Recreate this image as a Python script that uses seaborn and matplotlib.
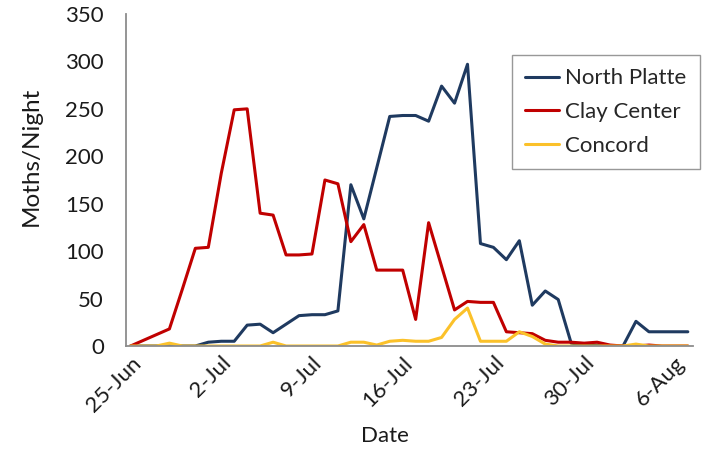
import matplotlib
matplotlib.use("Agg")
import matplotlib.pyplot as plt
import seaborn as sns
import pandas as pd
import numpy as np

# ---- data (daily trap catches, moths per night) ----
start_date = "2019-06-25"
n_days = 44
north_platte = [0, 0, 0, 0, 0, 0, 4, 5, 5, 22, 23, 14, 23, 32, 33, 33, 37, 170,
                134, 188, 242, 243, 243, 237, 274, 256, 297, 108, 104, 91, 111,
                43, 58, 49, 3, 1, 1, 0, 0, 26, 15, 15, 15, 15]
clay_center = [0, 6, 12, 18, 60, 103, 104, 182, 249, 250, 140, 138, 96, 96, 97,
               175, 171, 110, 128, 80, 80, 80, 28, 130, 84, 38, 47, 46, 46, 15,
               14, 13, 6, 4, 4, 3, 4, 1, 0, 0, 1, 0, 0, 0]
concord = [0, 0, 0, 3, 0, 0, 0, 0, 0, 0, 0, 4, 0, 0, 0, 0, 0, 4, 4, 1, 5, 6, 5,
           5, 9, 28, 40, 5, 5, 5, 15, 10, 2, 0, 0, 0, 0, 0, 0, 2, 0, 0, 0, 0]
series_names = ["North Platte", "Clay Center", "Concord"]
series_colors = ["#1F3A60", "#C00000", "#FBC12A"]
tick_dates = ["2019-06-25", "2019-07-02", "2019-07-09", "2019-07-16",
              "2019-07-23", "2019-07-30", "2019-08-06"]
tick_labels = ["25-Jun", "2-Jul", "9-Jul", "16-Jul", "23-Jul", "30-Jul", "6-Aug"]
y_ticks = [0, 50, 100, 150, 200, 250, 300, 350]

dates = pd.date_range(start_date, periods=n_days, freq="D")
df = pd.DataFrame({
    "Date": np.tile(dates, 3),
    "Moths": north_platte + clay_center + concord,
    "Site": np.repeat(series_names, n_days),
})

sns.set_style("white")
plt.rcParams["font.family"] = ["Lato", "DejaVu Sans"]

fig = plt.figure(figsize=(7.2, 4.49), dpi=100)
ax = fig.add_axes([126 / 720, 1 - 346 / 449, (693 - 126) / 720, (346 - 14) / 449])

sns.lineplot(data=df, x="Date", y="Moths", hue="Site", hue_order=series_names,
             palette=series_colors, linewidth=2.2, ax=ax, legend=True)

ax.set_ylim(0, 350)
ax.set_yticks(y_ticks)
ax.set_xlim(pd.Timestamp(start_date) - pd.Timedelta(days=0.35),
            pd.Timestamp(start_date) + pd.Timedelta(days=43.4))
ax.set_xticks([pd.Timestamp(d) for d in tick_dates])
ax.set_xticklabels(tick_labels, rotation=45, ha="right", rotation_mode="anchor",
                   fontsize=16, color="#1a1a1a")
for lab in ax.get_yticklabels():
    lab.set_fontsize(16)
    lab.set_color("#1a1a1a")
ax.tick_params(axis="x", length=0, pad=5)
ax.tick_params(axis="y", length=0, pad=16)

for s in ["top", "right"]:
    ax.spines[s].set_visible(False)
for s in ["left", "bottom"]:
    ax.spines[s].set_color("#8c8c8c")
    ax.spines[s].set_linewidth(1.3)

ax.set_xlabel("Date", fontsize=16, color="#1a1a1a")
ax.set_ylabel("Moths/Night", fontsize=17.5, color="#1a1a1a")
ax.xaxis.set_label_coords(0.457, -0.24)
ax.yaxis.set_label_coords(-0.148, 0.57)

leg = ax.legend(loc="upper left", bbox_to_anchor=(512 / 720, 1 - 55 / 449),
                bbox_transform=fig.transFigure, frameon=True, fancybox=False,
                fontsize=16, handlelength=1.5, handletextpad=0.3,
                borderpad=0.6, labelspacing=0.62, borderaxespad=0)
leg.get_frame().set_edgecolor("#7f7f7f")
leg.get_frame().set_linewidth(1.0)
for h in leg.get_lines():
    h.set_linewidth(2.2)

fig.savefig("out.png", dpi=100)
